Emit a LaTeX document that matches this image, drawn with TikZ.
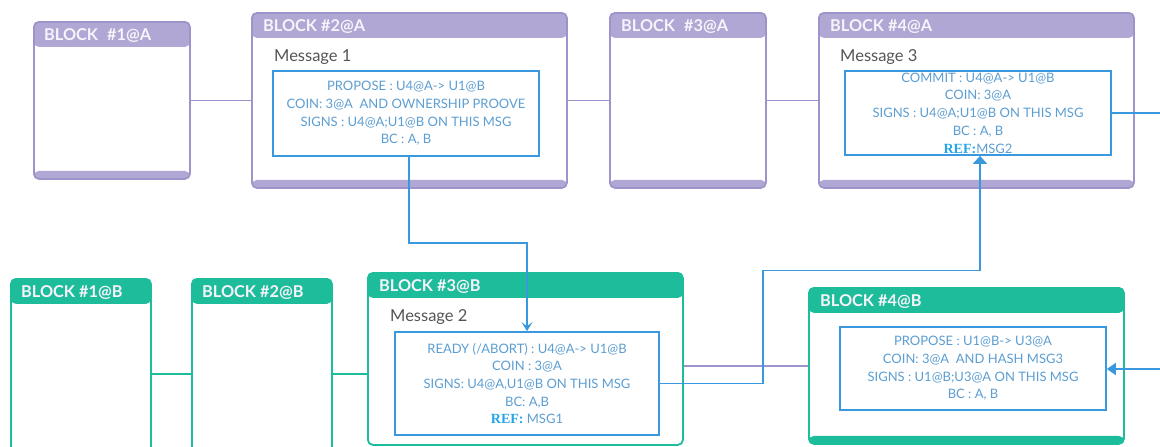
\documentclass[tikz,border=0pt]{standalone}
\usepackage{fontspec}
\setmainfont{Lato}
\newfontfamily\reffont{Liberation Serif}
\usetikzlibrary{arrows.meta}

\definecolor{purpA}{RGB}{158,148,203}
\definecolor{hdrA}{RGB}{176,167,212}
\definecolor{grnB}{RGB}{29,188,155}
\definecolor{wire}{RGB}{58,153,222}
\definecolor{msgtxt}{RGB}{92,158,210}
\definecolor{refblue}{RGB}{38,166,232}
\definecolor{labelgray}{RGB}{85,85,85}
\definecolor{titlewhite}{RGB}{246,244,250}

\tikzset{
  block/.style={draw=#1, line width=1.8pt, rounded corners=5pt, fill=white,
    anchor=north west, inner sep=0pt},
  blockA/.style={block=purpA, path picture={
    \fill[hdrA] (path picture bounding box.north west) rectangle ([yshift=-25pt]path picture bounding box.north east);
    \fill[hdrA] (path picture bounding box.south west) rectangle ([yshift=8pt]path picture bounding box.south east);}},
  blockB/.style={block=grnB, path picture={
    \fill[grnB] (path picture bounding box.north west) rectangle ([yshift=-25pt]path picture bounding box.north east);}},
  blockBband/.style={block=grnB, path picture={
    \fill[grnB] (path picture bounding box.north west) rectangle ([yshift=-25pt]path picture bounding box.north east);
    \fill[grnB] (path picture bounding box.south west) rectangle ([yshift=8pt]path picture bounding box.south east);}},
  title/.style={anchor=base west, text=titlewhite, inner sep=0pt,
    font=\fontsize{16.3}{18}\selectfont\bfseries},
  msglabel/.style={anchor=base west, text=labelgray, inner sep=0pt,
    font=\fontsize{16.5}{18}\selectfont},
  msg/.style={draw=wire, line width=1.7pt, fill=white, align=center, inner sep=0pt,
    minimum width=266pt, text=msgtxt, font=\fontsize{13}{17.7}\selectfont},
  link/.style={draw=#1, line width=1.6pt},
  wireline/.style={draw=wire, line width=1.8pt},
}
\newcommand{\refword}[1]{{\reffont\bfseries\fontsize{14}{15}\selectfont\color{refblue}#1}}

\begin{document}
\begin{tikzpicture}[x=1pt, y=-1pt]
    \useasboundingbox (0,0) rectangle (1160,447);

    % Chain A
    \node[blockA, minimum width=156pt, minimum height=157pt] (a1) at (33,21) {};
    \node[blockA, minimum width=315pt, minimum height=175pt] (a2) at (251,12) {};
    \node[blockA, minimum width=156pt, minimum height=175pt] (a3) at (609,12) {};
    \node[blockA, minimum width=315pt, minimum height=175pt] (a4) at (818,12) {};
    \node[title] (t1) at ([shift={(11pt,-19pt)}]a1.north west) {BLOCK\hspace{9pt}\#1@A};
    \node[title] (t2) at ([shift={(12pt,-19pt)}]a2.north west) {BLOCK \#2@A};
    \node[title] (t3) at ([shift={(12pt,-19pt)}]a3.north west) {BLOCK\hspace{9pt}\#3@A};
    \node[title] (t4) at ([shift={(12pt,-19pt)}]a4.north west) {BLOCK \#4@A};
    \draw[link=purpA] (a1.east) -- (a2.west);
    \draw[link=purpA] (a2.east) -- (a3.west);
    \draw[link=purpA] (a3.east) -- (a4.west);

    % Chain B
    \node[blockB, minimum width=140pt, minimum height=190pt] (b1) at (10,278) {};
    \node[blockB, minimum width=140pt, minimum height=190pt] (b2) at (191,278) {};
    \node[blockB, minimum width=315pt, minimum height=172pt] (b3) at (367,272) {};
    \node[blockBband, minimum width=315pt, minimum height=156pt] (b4) at (808,287) {};
    \node[title] (u1) at ([shift={(11pt,-19pt)}]b1.north west) {BLOCK \#1@B};
    \node[title] (u2) at ([shift={(11pt,-19pt)}]b2.north west) {BLOCK \#2@B};
    \node[title] (u3) at ([shift={(12pt,-19pt)}]b3.north west) {BLOCK \#3@B};
    \node[title] (u4) at ([shift={(12pt,-19pt)}]b4.north west) {BLOCK \#4@B};
    \draw[link=grnB] (b1.east) -- (b2.west);
    \draw[link=grnB] (b2.east) -- (b2.east -| b3.west);
    \draw[link=purpA] (b4.west -| b3.east) -- (b4.west);

    % Messages
    \node[msglabel] (l1) at ([shift={(23pt,-49pt)}]a2.north west) {Message 1};
    \node[msglabel] (l3) at ([shift={(22pt,-49pt)}]a4.north west) {Message 3};
    \node[msglabel] (l2) at ([shift={(23pt,-49pt)}]b3.north west) {Message 2};
    \node[msg, minimum height=85pt] (m1) at (406,113.5) {
        PROPOSE : U4@A-> U1@B\\
        COIN: 3@A~ AND OWNERSHIP PROOVE\\
        SIGNS : U4@A;U1@B ON THIS MSG\\
        BC : A, B};
    \node[msg, minimum height=84pt] (m3) at (978,113) {
        COMMIT : U4@A-> U1@B\\
        COIN: 3@A\\
        SIGNS : U4@A;U1@B ON THIS MSG\\
        BC : A, B\\
        \refword{REF:}MSG2};
    \node[msg, minimum width=264pt, minimum height=103pt] (m2) at (527,383.5) {
        READY (/ABORT) : U4@A-> U1@B\\
        COIN : 3@A\\
        SIGNS: U4@A,U1@B ON THIS MSG\\
        BC: A,B\\
        \refword{REF:} MSG1};
    \node[msg, minimum height=83pt] (m4) at (973,368.5) {
        PROPOSE : U1@B-> U3@A\\
        COIN: 3@A~ AND HASH MSG3\\
        SIGNS : U1@B;U3@A ON THIS MSG\\
        BC : A, B};

    % References between messages
    \coordinate (out3) at (1160,113);
    \coordinate (in4) at (1160,369);
    \draw[wireline, -{Stealth[length=9pt, width=11pt, inset=4pt]}]
        ([xshift=3pt]m1.south) -- ++(0,86) -| (m2.north);
    \draw[wireline, -{Triangle[length=8pt, width=14pt]}]
        (m2.east) -| ++(103,-113) -| ([xshift=2pt]m3.south);
    \draw[wireline] (m3.east) -- (m3.east -| out3);
    \draw[wireline, -{Triangle[length=9pt, width=12pt]}] (in4) -- (in4 -| m4.east);
\end{tikzpicture}
\end{document}
